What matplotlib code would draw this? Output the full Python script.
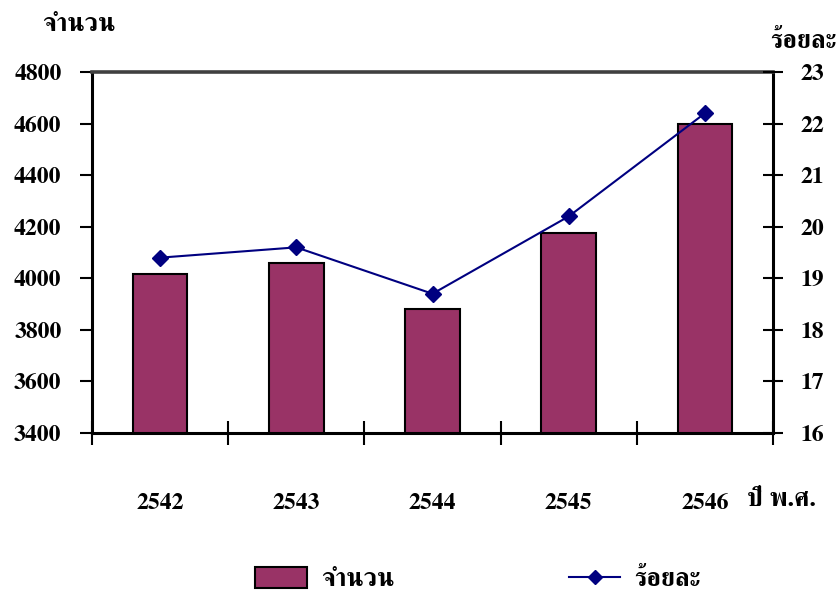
import matplotlib
matplotlib.use("Agg")
import matplotlib.pyplot as plt
import numpy as np
from matplotlib.patches import Patch
from matplotlib.lines import Line2D

plt.rcParams['font.family'] = ['FreeSerif', 'DejaVu Serif']
plt.rcParams['font.weight'] = 'bold'

years = ['2542', '2543', '2544', '2545', '2546']
counts = [4015, 4060, 3880, 4175, 4600]
percent = [19.4, 19.6, 18.7, 20.2, 22.2]

left_ticks = [3400, 3600, 3800, 4000, 4200, 4400, 4600, 4800]
right_ticks = [16, 17, 18, 19, 20, 21, 22, 23]

bar_color = '#993366'
line_color = '#000080'
fs = 17      # numerals
fs_th = 18.5  # Thai captions

fig = plt.figure(figsize=(8.36, 5.93), dpi=100)
ax = fig.add_axes([92 / 836, 1 - 433 / 593, (773 - 92) / 836, (433 - 72) / 593])
x = np.arange(len(years))

ax.bar(x, counts, width=0.4, color=bar_color, edgecolor='black', linewidth=1.5, zorder=2)
ax.set_ylim(3400, 4800)
ax.set_xlim(-0.5, len(years) - 0.5)
ax.set_yticks(left_ticks)
ax.set_yticklabels([str(v) for v in left_ticks], fontsize=fs, fontweight='bold')
ax.tick_params(axis='y', direction='out', length=9, width=1.5, pad=13)

# category boundaries carry the crossing tick marks; labels sit at the centres
ax.set_xticks(np.arange(-0.5, len(years), 1.0))
ax.set_xticklabels([])
ax.tick_params(axis='x', which='major', direction='inout', length=17, width=1.5)
ax.set_xticks(x, minor=True)
ax.set_xticklabels(years, minor=True, fontsize=fs, fontweight='bold')
ax.tick_params(axis='x', which='minor', length=0, pad=43)

for side in ['left', 'right', 'bottom']:
    ax.spines[side].set_linewidth(2.2)
    ax.spines[side].set_color('black')
ax.spines['top'].set_linewidth(2.6)
ax.spines['top'].set_color('#404040')

ax2 = ax.twinx()
ax2.plot(x, percent, color=line_color, linewidth=1.5, marker='D', markersize=8,
         markerfacecolor=line_color, markeredgecolor=line_color, zorder=3)
ax2.set_ylim(16, 23)
ax2.set_yticks(right_ticks)
ax2.set_yticklabels([str(v) for v in right_ticks], fontsize=fs, fontweight='bold')
ax2.tick_params(axis='y', direction='inout', length=15, width=1.5, pad=12)
for side in ['left', 'right', 'bottom', 'top']:
    ax2.spines[side].set_visible(False)

fig.text(42 / 836, 1 - 25 / 593, 'จำนวน', fontsize=fs_th, fontweight='bold', ha='left', va='center')
fig.text(836 / 836, 1 - 42 / 593, 'ร้อยละ', fontsize=fs_th, fontweight='bold', ha='right', va='center')
fig.text(747 / 836, 1 - 500 / 593, 'ปี พ.ศ.', fontsize=fs_th, fontweight='bold', ha='left', va='center')

handles = [Patch(facecolor=bar_color, edgecolor='black', linewidth=1.5),
           Line2D([0], [0], color=line_color, linewidth=1.5, marker='D', markersize=7,
                  markerfacecolor=line_color, markeredgecolor=line_color)]
fig.legend(handles, ['จำนวน', 'ร้อยละ'], ncol=2, frameon=False,
           loc='center', bbox_to_anchor=(478 / 836, 1 - 579 / 593),
           prop={'size': fs_th, 'weight': 'bold'}, handlelength=2.0, handleheight=0.9,
           handletextpad=0.55, columnspacing=6.8)

fig.savefig('out.png', dpi=100)
